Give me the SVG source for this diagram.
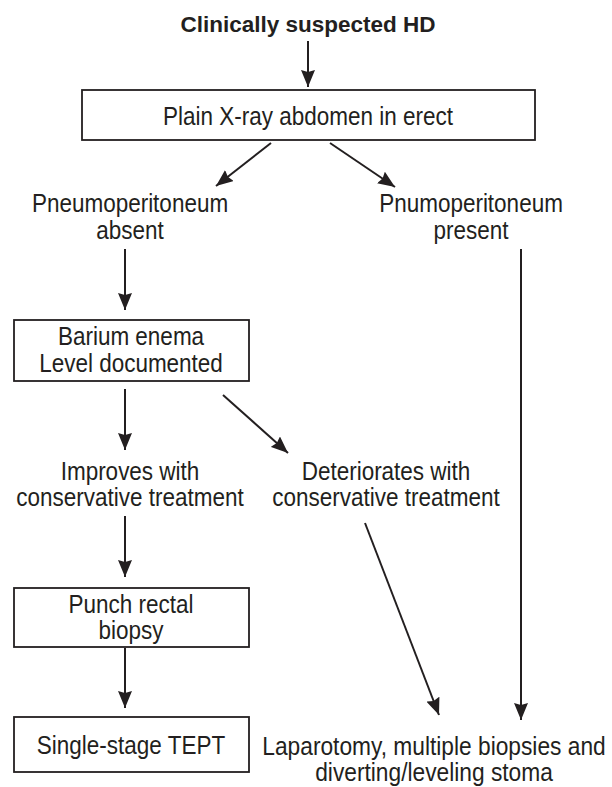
<svg xmlns="http://www.w3.org/2000/svg" width="612" height="787" viewBox="0 0 612 787">
<defs>
<marker id="ah" markerUnits="userSpaceOnUse" markerWidth="18" markerHeight="14" refX="17" refY="7" orient="auto">
<path d="M0,0 L17,7 L0,14 L2,7 z" fill="#231f20"/>
</marker>
<style>
.box{fill:#fff;stroke:#231f20;stroke-width:1.8}
.t{font-family:"Liberation Sans",Arial,sans-serif;font-size:25px;fill:#231f20;text-anchor:middle}
.b{font-weight:bold;font-size:22.5px}
.c{stroke:#231f20;stroke-width:2;fill:none;marker-end:url(#ah)}
</style>
</defs>
<rect width="612" height="787" fill="#fff"/>
<g id="title"><text class="t b" x="308" y="32">Clinically suspected HD</text></g>
<g id="xray"><rect class="box" x="82" y="90" width="453" height="50"/><g transform="translate(308 0) scale(0.9 1)"><text class="t" x="0" y="125">Plain X-ray abdomen in erect</text></g></g>
<g id="pneumo-absent"><g transform="translate(130 0) scale(0.9 1)"><text class="t" x="0" y="212">Pneumoperitoneum</text><text class="t" x="0" y="239">absent</text></g></g>
<g id="pneumo-present"><g transform="translate(471 0) scale(0.9 1)"><text class="t" x="0" y="212">Pnumoperitoneum</text><text class="t" x="0" y="239">present</text></g></g>
<g id="barium"><rect class="box" x="14" y="320" width="235" height="61"/><g transform="translate(131 0) scale(0.9 1)"><text class="t" x="0" y="345">Barium enema</text><text class="t" x="0" y="372">Level documented</text></g></g>
<g id="improves"><g transform="translate(130 0) scale(0.9 1)"><text class="t" x="0" y="480">Improves with</text><text class="t" x="0" y="506">conservative treatment</text></g></g>
<g id="deteriorates"><g transform="translate(386 0) scale(0.9 1)"><text class="t" x="0" y="480">Deteriorates with</text><text class="t" x="0" y="506">conservative treatment</text></g></g>
<g id="punch"><rect class="box" x="14" y="588" width="235" height="59"/><g transform="translate(131 0) scale(0.9 1)"><text class="t" x="0" y="613">Punch rectal</text><text class="t" x="0" y="639">biopsy</text></g></g>
<g id="tept"><rect class="box" x="14" y="717" width="235" height="55"/><g transform="translate(131 0) scale(0.9 1)"><text class="t" x="0" y="754">Single-stage TEPT</text></g></g>
<g id="laparotomy"><g transform="translate(434 0) scale(0.91 1)"><text class="t" x="0" y="755">Laparotomy, multiple biopsies and</text><text class="t" x="0" y="781">diverting/leveling stoma</text></g></g>
<g id="connectors">
<line class="c" x1="308" y1="41" x2="308" y2="87"/>
<line class="c" x1="271" y1="143" x2="216" y2="186"/>
<line class="c" x1="330" y1="143" x2="395" y2="187"/>
<line class="c" x1="125" y1="249" x2="125" y2="310"/>
<line class="c" x1="521" y1="249" x2="521" y2="720"/>
<line class="c" x1="125" y1="389" x2="125" y2="450"/>
<line class="c" x1="223" y1="395" x2="288" y2="453"/>
<line class="c" x1="125" y1="516" x2="125" y2="577"/>
<line class="c" x1="365" y1="523" x2="439" y2="715"/>
<line class="c" x1="125" y1="648" x2="125" y2="708"/>
</g>
</svg>
